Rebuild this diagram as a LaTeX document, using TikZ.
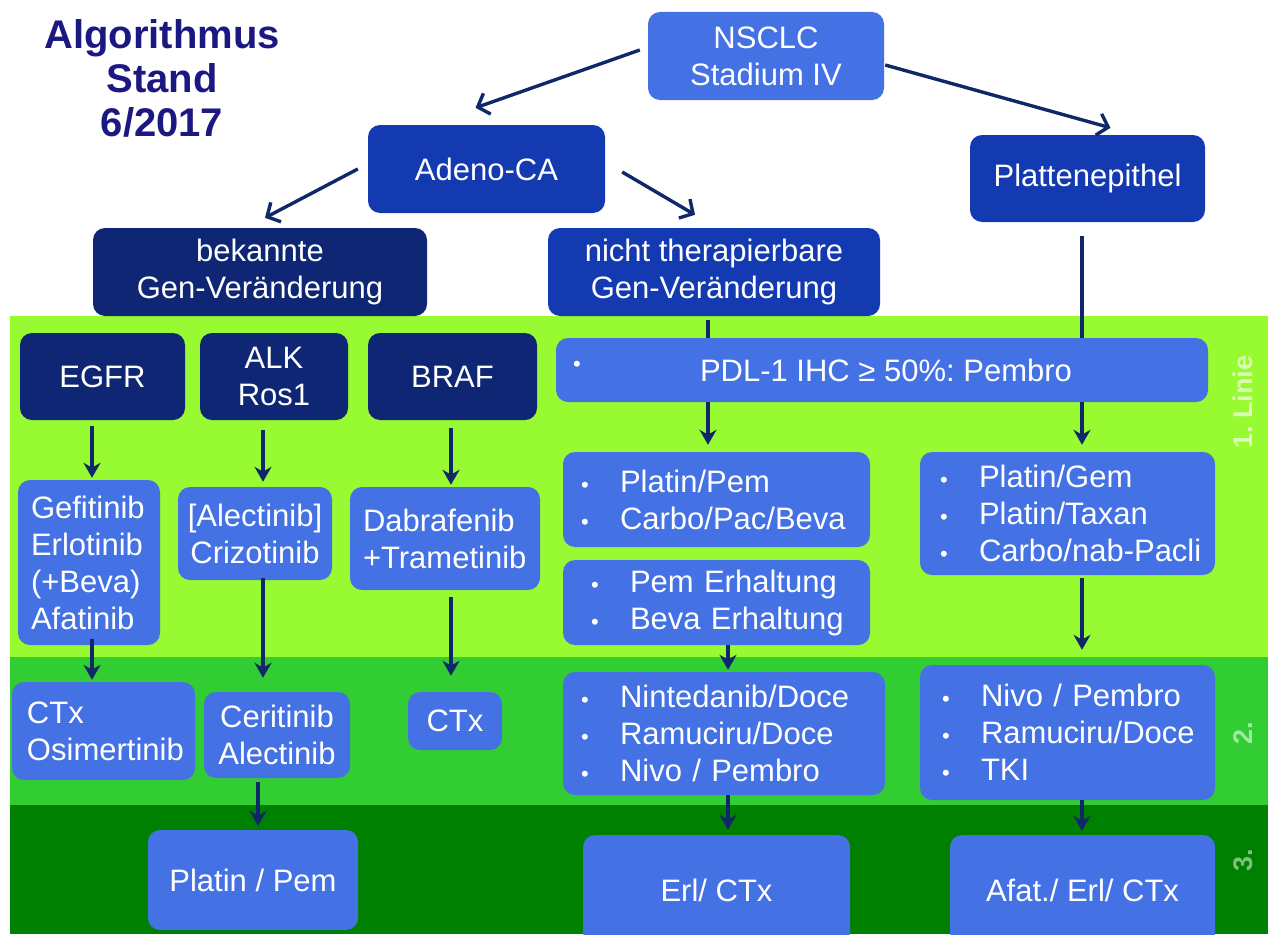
\documentclass[tikz,border=0pt]{standalone}
\usepackage{fontspec}
\setmainfont{Liberation Sans}
\usetikzlibrary{arrows.meta}
\frenchspacing

\definecolor{boxlight}{RGB}{68,114,228}
\definecolor{boxmid}{RGB}{20,58,178}
\definecolor{boxnavy}{RGB}{14,38,115}
\definecolor{arrowc}{RGB}{16,40,105}
\definecolor{bandA}{RGB}{152,250,48}
\definecolor{bandB}{RGB}{50,205,50}
\definecolor{bandC}{RGB}{0,128,0}
\definecolor{titlec}{RGB}{28,24,130}

% one bulleted line, never broken
\newcommand{\bl}[1]{\mbox{\makebox[39pt][l]{\fontsize{22}{22}\selectfont\textbullet}#1}}

\tikzset{
  bx/.style 2 args={rectangle, rounded corners=12pt, inner sep=0pt,
    minimum width=#1, minimum height=#2, text=white, align=center,
    font=\fontsize{31}{37}\selectfont},
  light/.style={fill=boxlight},
  mid/.style={fill=boxmid},
  navy/.style={fill=boxnavy},
  leftbox/.style 2 args={bx={#1}{#2}, align=left, inner xsep=#2, text width=#1-2*#2},
  ln/.style={draw=arrowc, line width=3.4pt},
  arr/.style={ln, -{Stealth[length=15pt,width=17pt]}},
  barb/.style={ln, -{Straight Barb[length=10pt,width=22pt,line width=3.4pt]}},
  bandlabel/.style={rotate=90, font=\fontsize{27}{27}\selectfont\bfseries}
}

\begin{document}
\begin{tikzpicture}[x=1pt,y=-1pt]
\useasboundingbox (0,0) rectangle (1273,934);
\fill[white] (0,0) rectangle (1273,934);

% treatment-line bands
\fill[bandA] (10,316) rectangle (1268,657);
\fill[bandB] (10,657) rectangle (1268,805);
\fill[bandC] (10,805) rectangle (1268,934);

\node[bandlabel, text=white!65!bandA] (lab1) at (1243,402) {1. Linie};
\node[bandlabel, text=white!55!bandB] (lab2) at (1243,733) {2.};
\node[bandlabel, text=white!50!bandC] (lab3) at (1243,860) {3.};

% title
\node[text=titlec, font=\fontsize{40}{44}\selectfont\bfseries, align=center] (title) at (162,78)
  {Algorithmus\\Stand\\6/2017};

% histology split
\node[bx={236pt}{88pt}, light] (nsclc) at (766,56) {NSCLC\\Stadium IV};
\node[bx={237pt}{88pt}, mid] (adeno) at (486.5,169) {Adeno-CA};
\node[bx={235pt}{87pt}, mid] (platten) at (1087.5,178.5) {Plattenepithel};
\node[bx={334pt}{88pt}, navy] (bek) at (260,272) {bekannte\\Gen-Veränderung};
\node[bx={332pt}{88pt}, mid] (nicht) at (714,272) {nicht therapierbare\\Gen-Veränderung};

% driver mutations
\node[bx={165pt}{87pt}, navy] (egfr) at (102.5,376.5) {EGFR};
\node[bx={148pt}{87pt}, navy] (alk) at (274,376.5) {ALK\\Ros1};
\node[bx={169pt}{87pt}, navy] (braf) at (452.5,376.5) {BRAF};
\node[bx={652pt}{64pt}, light] (pdl) at (882,370) {\hspace*{8pt}PDL-1 IHC ≥ 50\%: Pembro};
\node[text=white, font=\fontsize{22}{22}\selectfont, inner sep=0pt] (pdlbul) at (577,366) {\textbullet};

% first line
\node[leftbox={142pt}{13pt}, minimum height=165pt, light] (gef) at (89,562.5)
  {Gefitinib\\Erlotinib\\(+Beva)\\Afatinib};
\node[bx={154pt}{93pt}, light] (alec) at (255,533.5) {[Alectinib]\\Crizotinib};
\node[leftbox={190pt}{13pt}, minimum height=103pt, light] (dabra) at (445,538.5)
  {\mbox{Dabrafenib}\\\mbox{+Trametinib}};
\node[leftbox={307pt}{18pt}, minimum height=95pt, light] (ppem) at (716.5,499.5)
  {\bl{Platin/Pem}\\\bl{Carbo/Pac/Beva}};
\node[leftbox={307pt}{28pt}, minimum height=85pt, light] (perh) at (716.5,602.5)
  {\bl{Pem Erhaltung}\\\bl{Beva Erhaltung}};
\node[leftbox={295pt}{20pt}, minimum height=123pt, light] (pgem) at (1067.5,513.5)
  {\bl{Platin/Gem}\\\bl{Platin/Taxan}\\\bl{Carbo/nab-Pacli}};

% second line
\node[leftbox={183pt}{15pt}, minimum height=98pt, light] (ctxo) at (103.5,731)
  {CTx\\\mbox{Osimertinib}};
\node[bx={146pt}{86pt}, light] (ceri) at (277,735) {Ceritinib\\Alectinib};
\node[bx={94pt}{58pt}, light] (ctx) at (455,721) {CTx};
\node[leftbox={322pt}{18pt}, minimum height=123pt, light] (ninte) at (724,733.5)
  {\bl{Nintedanib/Doce}\\\bl{Ramuciru/Doce}\\\bl{Nivo / Pembro}};
\node[leftbox={295pt}{22pt}, minimum height=135pt, light] (nivo) at (1067.5,732.5)
  {\bl{Nivo / Pembro}\\\bl{Ramuciru/Doce}\\\bl{TKI}};

% third line
\node[bx={210pt}{100pt}, light] (platpem) at (253,880) {Platin / Pem};
\node[bx={267pt}{110pt}, light] (erl) at (716.5,890) {Erl/ CTx};
\node[bx={265pt}{110pt}, light] (afat) at (1082.5,890) {Afat./ Erl/ CTx};

% vertical guide columns
\coordinate (colE) at (92,0);
\coordinate (colA) at (263,0);
\coordinate (colB) at (451,0);
\coordinate (colM) at (708,0);
\coordinate (colN) at (728,0);
\coordinate (colR) at (1082,0);
\coordinate (colC) at (258,0);

% connectors in the upper tree
\draw[barb] ([xshift=-8pt,yshift=6pt]nsclc.west) -- ([xshift=-11pt,yshift=17pt]adeno.north);
\draw[barb] ([xshift=1pt,yshift=-9pt]nsclc.east) -- ([xshift=23pt,yshift=7pt]platten.north);
\draw[barb] ([xshift=-10pt]adeno.west) -- ([xshift=5pt,yshift=10pt]bek.north);
\draw[barb] ([xshift=17pt,yshift=-3pt]adeno.east) -- ([xshift=-19pt,yshift=13pt]nicht.north);

\draw[ln] ([yshift=-14pt]platten.south -| colR) -- (pdl.north -| colR);
\draw[ln] ([yshift=-4pt]nicht.south -| colM) -- (pdl.north -| colM);

% connectors down the treatment lines
\draw[arr] ([yshift=-6pt]egfr.south -| colE) -- ([yshift=2pt]gef.north -| colE);
\draw[arr] ([yshift=-10pt]alk.south -| colA) -- ([yshift=5pt]alec.north -| colA);
\draw[arr] ([yshift=-8pt]braf.south -| colB) -- ([yshift=2pt]dabra.north -| colB);
\draw[arr] (pdl.south -| colM) -- ([yshift=7pt]ppem.north -| colM);
\draw[arr] (pdl.south -| colR) -- ([yshift=7pt]pgem.north -| colR);

\draw[arr] ([yshift=6pt]gef.south -| colE) -- ([yshift=2pt]ctxo.north -| colE);
\draw[arr] ([yshift=2pt]alec.south -| colA) -- ([yshift=14pt]ceri.north -| colA);
\draw[arr] ([yshift=-7pt]dabra.south -| colB) -- ([yshift=16pt]ctx.north -| colB);
\draw[arr] (perh.south -| colN) -- ([yshift=2pt]ninte.north -| colN);
\draw[arr] ([yshift=-3pt]pgem.south -| colR) -- ([yshift=15pt]nivo.north -| colR);

\draw[arr] ([yshift=-4pt]ceri.south -| colC) -- ([yshift=4pt]platpem.north -| colC);
\draw[arr] (ninte.south -| colN) -- ([yshift=5pt]erl.north -| colN);
\draw[arr] (nivo.south -| colR) -- ([yshift=4pt]afat.north -| colR);
\end{tikzpicture}
\end{document}
